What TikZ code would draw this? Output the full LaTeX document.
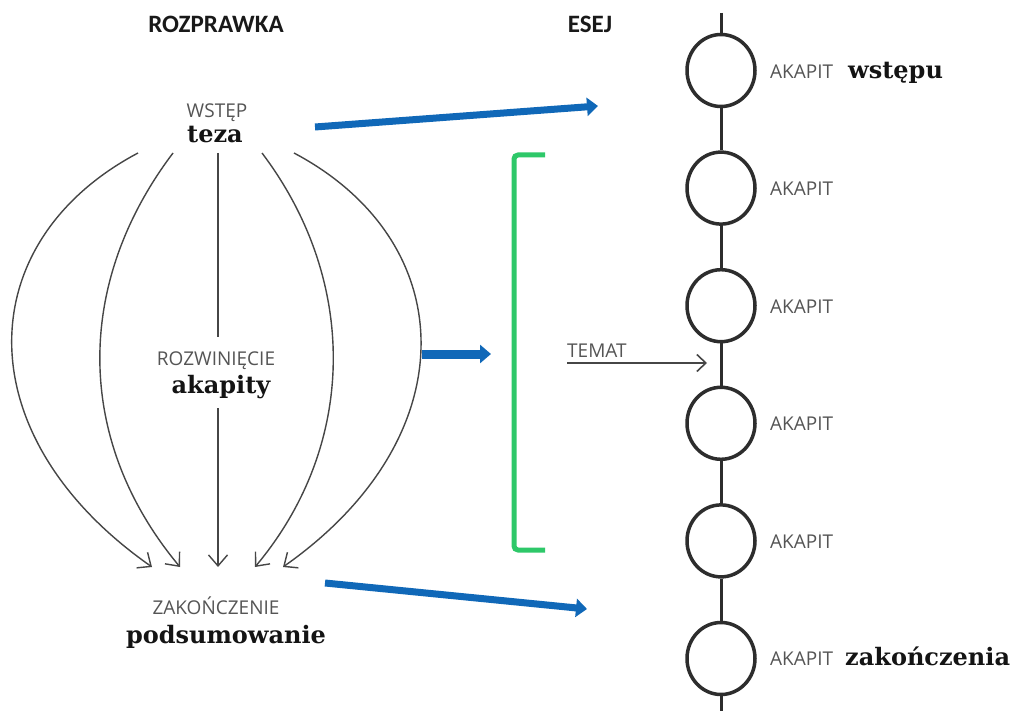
\documentclass[tikz,border=0pt]{standalone}
\usepackage{fontspec}
\setmainfont{DejaVu Serif}
\newfontfamily\labelfont{Open Sans}
\newfontfamily\titlefont{Carlito}
\usetikzlibrary{arrows.meta,shapes.geometric}
\definecolor{arrowblue}{RGB}{16,104,184}
\definecolor{bracketgreen}{RGB}{46,200,105}
\definecolor{labelgray}{RGB}{85,85,85}
\definecolor{curvegray}{RGB}{70,70,70}
\definecolor{ringgray}{RGB}{45,45,45}
\begin{document}
\begin{tikzpicture}[x=1pt,y=-1pt,
  titletext/.style={font=\titlefont\bfseries\fontsize{25}{25}\selectfont, inner sep=0pt, anchor=base, text=black!90},
  graytext/.style={font=\labelfont\fontsize{19}{19}\selectfont, text=labelgray, inner sep=0pt},
  serifbold/.style={font=\fontsize{24}{24}\selectfont\bfseries, text=black!92, inner sep=0pt},
  flowcurve/.style={draw=curvegray, line width=1.4pt, -{Straight Barb[length=11pt,width=19pt]}},
  flowline/.style={draw=curvegray, line width=1.4pt},
  bluearrow/.style={draw=arrowblue, line width=7pt, -{Triangle[length=11pt,width=18pt]}},
  ring/.style={draw=ringgray, line width=3.5pt, shape=ellipse, minimum width=68pt, minimum height=72pt, inner sep=0pt},
  spine/.style={draw=ringgray, line width=3pt},
  bracketline/.style={draw=bracketgreen, line width=5pt, rounded corners=4pt},
  topicarrow/.style={draw=curvegray, line width=1.6pt, -{Straight Barb[length=9pt,width=17pt]}}
]
\fill[white] (0,0) rectangle (1012,711);
\useasboundingbox (0,0) rectangle (1012,711);

% titles
\node[titletext] (rozprawka) at (216,33) {ROZPRAWKA};
\node[titletext] (esej) at (590,33) {ESEJ};

% left column labels
\node[graytext, anchor=base] (wstep) at (217,118) {WSTĘP};
\node[serifbold, anchor=base] (teza) at (215,143) {teza};
\node[graytext, anchor=base] (rozwiniecie) at (216,365) {ROZWINIĘCIE};
\node[serifbold, anchor=base] (akapity) at (221,393) {akapity};
\node[graytext, anchor=base] (zakonczenie) at (216,614) {ZAKOŃCZENIE};
\node[serifbold, anchor=base] (podsumowanie) at (226,643) {podsumowanie};

% curve end points
\coordinate (s1) at (138,153);
\coordinate (s2) at (173,153);
\coordinate (s3) at (218,153);
\coordinate (s4) at (262,153);
\coordinate (s5) at (294,153);
\coordinate (e1) at (152,567);
\coordinate (e2) at (180,567);
\coordinate (e3) at (218,567);
\coordinate (e4) at (255,567);
\coordinate (e5) at (283,567);
\coordinate (m1) at (218,337);
\coordinate (m2) at (218,408);

\draw[flowcurve] (s1) .. controls (-30,242) and (-35,436) .. (e1);
\draw[flowcurve] (s2) .. controls (74,284) and (75,441) .. (e2);
\draw[flowline] (s3) -- (m1);
\draw[flowcurve] (m2) -- (e3);
\draw[flowcurve] (s4) .. controls (358,280) and (358,444) .. (e4);
\draw[flowcurve] (s5) .. controls (462,242) and (468,437) .. (e5);

% blue arrows
\coordinate (b1s) at (315,127);
\coordinate (b1e) at (598,106);
\coordinate (b2s) at (422,354);
\coordinate (b2e) at (491,354);
\coordinate (b3s) at (325,583);
\coordinate (b3e) at (587,609);
\draw[bluearrow] (b1s) -- (b1e);
\draw[bluearrow, line width=9pt] (b2s) -- (b2e);
\draw[bluearrow] (b3s) -- (b3e);

% green bracket
\coordinate (g1) at (545,155);
\coordinate (g2) at (514,155);
\coordinate (g3) at (514,550);
\coordinate (g4) at (545,550);
\draw[bracketline] (g1) -- (g2) -- (g3) -- (g4);

% right column
\coordinate (spinetop) at (721,13);
\coordinate (spinebot) at (721,711);
\foreach \i/\y in {1/70.5,2/188.1,3/305.7,4/423.3,5/540.9,6/658.5}{
  \node[ring] (c\i) at (721,\y) {};
}
\draw[spine] (spinetop) -- (c1.north);
\draw[spine] (c1.south) -- (c2.north);
\draw[spine] (c2.south) -- (c3.north);
\draw[spine] (c3.south) -- (c4.north);
\draw[spine] (c4.south) -- (c5.north);
\draw[spine] (c5.south) -- (c6.north);
\draw[spine] (c6.south) -- (spinebot);

\node[graytext, anchor=base west] (a1) at (770,79) {AKAPIT};
\node[graytext, anchor=base west] (a2) at (770,196) {AKAPIT};
\node[graytext, anchor=base west] (a3) at (770,313) {AKAPIT};
\node[graytext, anchor=base west] (a4) at (770,430) {AKAPIT};
\node[graytext, anchor=base west] (a5) at (770,548) {AKAPIT};
\node[graytext, anchor=base west] (a6) at (770,665) {AKAPIT};
\node[serifbold, anchor=base west] (wstepu) at (848,79) {wstępu};
\node[serifbold, anchor=base west] (zakonczenia) at (845,665) {zakończenia};

% topic arrow
\node[graytext, anchor=base west] (temat) at (567,357) {TEMAT};
\coordinate (t1) at (567,363);
\coordinate (t2) at (707,363);
\draw[topicarrow] (t1) -- (t2);
\end{tikzpicture}
\end{document}
